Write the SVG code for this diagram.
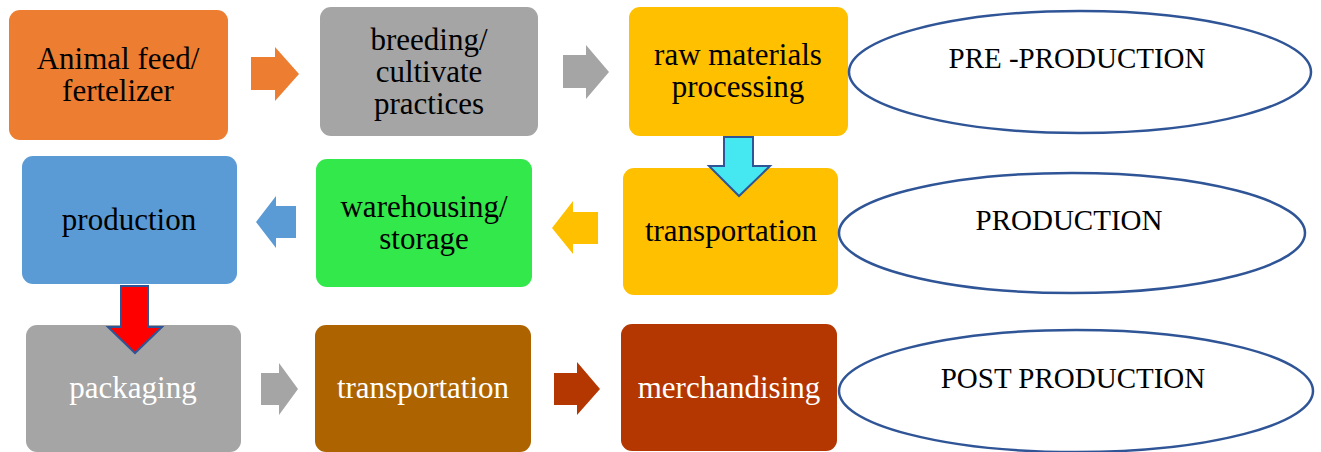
<svg xmlns="http://www.w3.org/2000/svg" width="1321" height="452" viewBox="0 0 1321 452">
<style>
.box{stroke:none}
.t{font-family:"Liberation Serif","Times New Roman",serif;font-size:31px;text-anchor:middle;fill:#000}
.w{fill:#fff}
.e{fill:#fff;stroke:#2F5597;stroke-width:2.5}
.et{font-family:"Liberation Serif","Times New Roman",serif;font-size:29px;text-anchor:middle;fill:#000}
.ol{stroke:#2F5597;stroke-width:2;stroke-linejoin:miter}
</style>
<rect width="1321" height="452" fill="#fff"/>
<g id="node-animal-feed">
<rect class="box" x="9" y="10" width="219" height="130" rx="11" fill="#ED7D31"/>
<text class="t" x="118" y="69">Animal feed/</text>
<text class="t" x="118" y="101">fertelizer</text>
</g>
<g id="node-breeding">
<rect class="box" x="320" y="7" width="218" height="129" rx="11" fill="#A5A5A5"/>
<text class="t" x="429" y="50">breeding/</text>
<text class="t" x="429" y="82">cultivate</text>
<text class="t" x="429" y="114">practices</text>
</g>
<g id="node-raw-materials">
<rect class="box" x="629" y="7" width="219" height="129" rx="11" fill="#FFC000"/>
<text class="t" x="738" y="65">raw materials</text>
<text class="t" x="738" y="97">processing</text>
</g>
<g id="node-transportation-1">
<rect class="box" x="623" y="168" width="215" height="127" rx="11" fill="#FFC000"/>
<text class="t" x="731" y="241">transportation</text>
</g>
<g id="node-warehousing">
<rect class="box" x="316" y="159" width="216" height="128" rx="11" fill="#33E84B"/>
<text class="t" x="424" y="217">warehousing/</text>
<text class="t" x="424" y="249">storage</text>
</g>
<g id="node-production">
<rect class="box" x="22" y="156" width="215" height="128" rx="11" fill="#5B9BD5"/>
<text class="t" x="129" y="230">production</text>
</g>
<g id="node-packaging">
<rect class="box" x="26" y="325" width="215" height="127" rx="11" fill="#A5A5A5"/>
<text class="t w" x="133" y="398">packaging</text>
</g>
<g id="node-transportation-2">
<rect class="box" x="315" y="325" width="216" height="127" rx="11" fill="#AD6400"/>
<text class="t w" x="423" y="398">transportation</text>
</g>
<g id="node-merchandising">
<rect class="box" x="621" y="324" width="216" height="127" rx="11" fill="#B43600"/>
<text class="t w" x="729" y="398">merchandising</text>
</g>
<g id="node-pre-production">
<ellipse class="e" cx="1080" cy="72" rx="231" ry="61"/>
<text class="et" x="1077" y="68">PRE -PRODUCTION</text>
</g>
<g id="node-production-phase">
<ellipse class="e" cx="1072" cy="233" rx="233" ry="60"/>
<text class="et" x="1069" y="230">PRODUCTION</text>
</g>
<g id="node-post-production">
<ellipse class="e" cx="1076" cy="391" rx="237" ry="61"/>
<text class="et" x="1073" y="388">POST PRODUCTION</text>
</g>
<g id="connectors">
<polygon points="251,57 275,57 275,47 299,74 275,101 275,90 251,90" fill="#ED7D31"/>
<polygon points="563,55 586,55 586,45 609,72 586,99 586,88 563,88" fill="#A5A5A5"/>
<polygon class="ol" points="724,137 753,137 753,166 770,166 739,196 709,166 724,166" fill="#45E8F0"/>
<polygon points="598,212 573,212 573,201 552,228 573,254 573,244 598,244" fill="#FFC000"/>
<polygon points="296,206 276,206 276,196 256,222 276,248 276,238 296,238" fill="#5B9BD5"/>
<polygon class="ol" points="121,286 148,286 148,327 162,327 135,353 108,327 121,327" fill="#FF0000"/>
<polygon points="261,373 279,373 279,363 298,389 279,415 279,405 261,405" fill="#A5A5A5"/>
<polygon points="554,373 577,373 577,362 600,389 577,415 577,405 554,405" fill="#B43600"/>
</g>
</svg>
